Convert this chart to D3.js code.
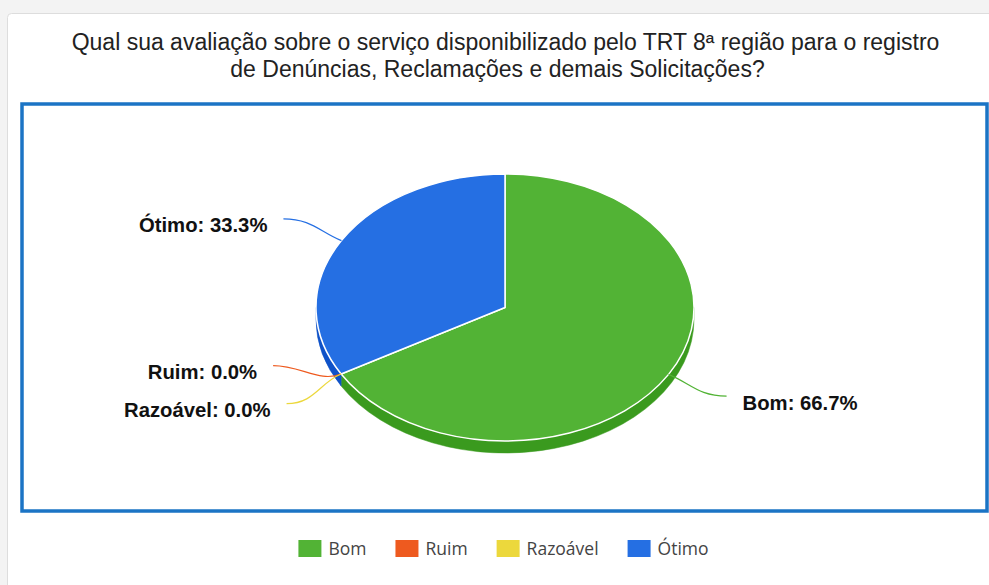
<!DOCTYPE html>
<html>
<head>
<meta charset="utf-8">
<script src="https://cdn.jsdelivr.net/npm/d3@7"></script>
<style>
  html, body { margin: 0; padding: 0; background: #f3f3f3; }
  svg { display: block; }
</style>
</head>
<body>
<svg id="chart" width="989" height="585"></svg>
<script>
const titleLines = [
  "Qual sua avaliação sobre o serviço disponibilizado pelo TRT 8ª região para o registro",
  "de Denúncias, Reclamações e demais Solicitações?"
];
const categories = ["Bom", "Ruim", "Razoável", "Ótimo"];
const values = [66.7, 0.0, 0.0, 33.3];
const colors = ["#52b335", "#ee5a1f", "#ecd83c", "#256fe3"];
const sideColors = ["#3a9a1e", "#c4461a", "#c9b52c", "#0f52c8"];

const W = 989, H = 585;
const svg = d3.select("#chart");

// card
svg.append("rect").attr("x", 7.5).attr("y", 13.5).attr("width", 1000).attr("height", 620)
  .attr("rx", 4).attr("fill", "#ffffff").attr("stroke", "#dddddd").attr("stroke-width", 1);

// title
const titleX = [505.5, 497.5], titleY = [50, 77];
titleLines.forEach((t, i) => {
  svg.append("text").attr("x", titleX[i]).attr("y", titleY[i])
    .attr("text-anchor", "middle")
    .attr("font-family", "Arial, 'Liberation Sans', sans-serif")
    .attr("font-size", 23).attr("fill", "#222")
    .text(t);
});

// chart area box
svg.append("rect").attr("x", 22).attr("y", 104).attr("width", 965).attr("height", 407)
  .attr("fill", "#ffffff").attr("stroke", "#1b74c5").attr("stroke-width", 3.5);

// 3D pie
const cx = 505, cy = 307.5, rx = 189, ry = 133.5, depth = 12;
const pt = (a, Rx, Ry, dy = 0) => [cx + Rx * Math.sin(a), cy - Ry * Math.cos(a) + dy];
const arcs = d3.pie().sort(null).value(d => d)(values);

const g = svg.append("g");

// side walls
arcs.forEach((d, i) => {
  const a0 = Math.max(d.startAngle, Math.PI / 2);
  const a1 = Math.min(d.endAngle, 3 * Math.PI / 2);
  if (a1 <= a0) return;
  const p0 = pt(a0, rx, ry), p1 = pt(a1, rx, ry);
  const q0 = pt(a0, rx, ry, depth), q1 = pt(a1, rx, ry, depth);
  const path = `M${p0}A${rx},${ry} 0 0 1 ${p1}L${q1}A${rx},${ry} 0 0 0 ${q0}Z`;
  g.append("path").attr("d", path).attr("fill", sideColors[i])
    .attr("stroke", sideColors[i]).attr("stroke-width", 0.5);
});

// top faces
arcs.forEach((d, i) => {
  if (d.endAngle - d.startAngle <= 0) return;
  const p0 = pt(d.startAngle, rx, ry), p1 = pt(d.endAngle, rx, ry);
  const large = d.endAngle - d.startAngle > Math.PI ? 1 : 0;
  const path = `M${cx},${cy}L${p0}A${rx},${ry} 0 ${large} 1 ${p1}Z`;
  g.append("path").attr("d", path).attr("fill", colors[i])
    .attr("stroke", "#ffffff").attr("stroke-width", 1.5).attr("stroke-linejoin", "round");
});

// labels
const Rx = rx + 67, Ry = ry + 43.5, spacing = 38;
const labels = arcs.map((d, i) => {
  const mid = (d.startAngle + d.endAngle) / 2;
  const side = Math.sin(mid) >= 0 ? 1 : -1;
  return { i, mid, side, base: cy - Ry * Math.cos(mid) };
});
// resolve collisions: labels sharing an anchor are stacked around it
const groups = d3.group(labels, l => l.side + ":" + l.base.toFixed(1));
groups.forEach(list => {
  const n = list.length;
  list.forEach((l, k) => {
    l.y = n > 1 ? l.base + (k - (n - 1) / 2) * spacing - 11 : l.base;
    l.stacked = n > 1;
  });
});
labels.forEach(l => {
  const dy = l.y - cy;
  l.x = cx + l.side * Rx * Math.sqrt(Math.max(0, 1 - (dy / Ry) * (dy / Ry)));
  if (l.stacked) l.x = (l.x + (cx + l.side * Rx * Math.abs(Math.sin(l.mid)))) / 2;
});

labels.forEach(l => {
  const i = l.i;
  const P0 = pt(l.mid, rx, ry);
  const C1 = pt(l.mid, rx + 25, ry + 25 * ry / rx);
  const C2 = [l.x - l.side * 28, l.y];
  const P3 = [l.x, l.y];
  svg.append("path").attr("d", `M${P0}C${C1} ${C2} ${P3}`)
    .attr("fill", "none").attr("stroke", colors[i]).attr("stroke-width", 1.2);
});
labels.forEach(l => {
  svg.append("text")
    .attr("x", l.x + l.side * 16).attr("y", l.y + 13.5)
    .attr("text-anchor", l.side > 0 ? "start" : "end")
    .attr("font-family", "Arial, 'Liberation Sans', sans-serif")
    .attr("font-weight", "bold").attr("font-size", 20.3).attr("fill", "#111")
    .text(`${categories[l.i]}: ${values[l.i].toFixed(1)}%`);
});

// legend
const legend = svg.append("g");
let lx = 0;
categories.forEach((c, i) => {
  const it = legend.append("g");
  it.append("rect").attr("x", lx).attr("y", 540).attr("width", 23).attr("height", 17)
    .attr("fill", colors[i]);
  const t = it.append("text").attr("x", lx + 30).attr("y", 554.5)
    .attr("font-family", "'Open Sans', sans-serif").attr("font-size", 17.5)
    .attr("fill", "#444").text(c);
  lx += 30 + t.node().getComputedTextLength() + 29;
});
const totalW = lx - 29;
legend.attr("transform", `translate(${(297 + 710) / 2 - totalW / 2},0)`);
</script>
</body>
</html>
